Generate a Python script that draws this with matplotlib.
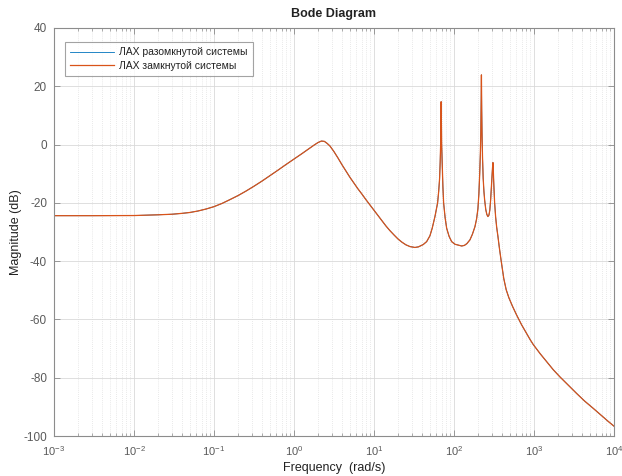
import numpy as np
import matplotlib
matplotlib.use("Agg")
import matplotlib.pyplot as plt
from matplotlib.ticker import LogLocator, FixedLocator, NullFormatter, FuncFormatter

# Frequency grid (rad/s) and magnitude (dB) of the frequency response
freq = [
    1e-3, 3e-3, 0.01, 0.02, 0.03, 0.04, 0.05, 0.063, 0.08, 0.1,
    0.126, 0.158, 0.2, 0.25, 0.316, 0.4, 0.5, 0.63, 0.79, 1.0,
    1.26, 1.58, 1.78, 2.0, 2.2, 2.4, 2.6, 2.82, 3.16, 3.55,
    3.98, 4.47, 5.0, 5.62, 6.31, 7.08, 7.94, 8.91, 10.0, 11.2,
    12.6, 14.1, 15.8, 17.8, 20.0, 22.4, 25.1, 28.2, 32.5, 36.0,
    41.3, 45.6, 50.1, 53.5, 57.9, 60.5, 62.5, 64.5, 66.2, 67.3,
    68.2, 68.7, 69.0, 69.2, 69.4, 69.7, 70.2, 71.5, 72.8, 74.3,
    77.5, 81.1, 87.0, 93.6, 103.0, 113.0, 125.0, 135.0, 145.0, 158.5,
    170.0, 183.0, 192.0, 199.5, 205.0, 210.0, 214.0, 216.8, 218.8, 219.9,
    220.6, 221.3, 222.5, 224.5, 227.5, 232.0, 237.0, 242.0, 250.0, 258.0,
    266.0, 274.0, 281.0, 287.6, 293.0, 298.5, 303.0, 307.4, 310.5, 315.0,
    322.6, 332.0, 342.0, 354.8, 370.0, 390.0, 420.0, 450.0, 487.0, 540.0,
    608.0, 700.0, 810.0, 900.0, 980.0, 1200.0, 1442.0, 1750.0, 2113.0, 2700.0,
    3420.0, 4300.0, 5510.0, 7000.0, 8500.0, 1e4,
]
mag_closed_db = [
    -24.4, -24.4, -24.35, -24.1, -23.9, -23.6, -23.3, -22.8, -22.1, -21.3,
    -20.2, -18.9, -17.5, -16.0, -14.3, -12.5, -10.7, -8.8, -6.9, -5.0,
    -3.1, -1.2, -0.2, 0.7, 1.2, 1.1, 0.4, -0.5, -2.4, -4.6,
    -6.9, -9.1, -11.2, -13.2, -15.2, -17.0, -18.9, -20.7, -22.5, -24.3,
    -26.1, -27.9, -29.5, -31.0, -32.4, -33.5, -34.4, -35.0, -35.3, -35.1,
    -34.3, -33.3, -31.3, -28.7, -24.7, -22.0, -20.0, -16.0, -11.6, -6.0,
    0.0, 6.5, 11.5, 14.7, 11.5, 6.5, 0.0, -8.0, -14.5, -20.0,
    -25.0, -28.7, -31.5, -33.3, -34.2, -34.5, -34.8, -34.6, -34.0, -32.7,
    -30.8, -28.2, -25.5, -22.0, -17.0, -10.0, -3.0, 4.0, 12.0, 19.0,
    23.9, 19.0, 12.0, 4.0, -4.0, -11.5, -16.0, -19.0, -22.3, -24.0,
    -24.7, -24.2, -22.5, -19.0, -15.0, -11.0, -8.3, -6.2, -8.8, -13.5,
    -20.0, -24.8, -28.3, -31.5, -35.5, -40.0, -46.0, -49.8, -52.6, -55.5,
    -58.5, -61.8, -64.8, -67.0, -68.6, -71.8, -74.5, -77.3, -79.7, -82.6,
    -85.4, -88.0, -90.5, -93.0, -95.0, -96.6,
]
# The open-loop curve coincides with the closed-loop one on this scale
mag_open_db = list(mag_closed_db)

series_labels = ["ЛАХ разомкнутой системы", "ЛАХ замкнутой системы"]
series_colors = ["#0072BD", "#D95319"]

x_ticks = [1e-3, 1e-2, 1e-1, 1e0, 1e1, 1e2, 1e3, 1e4]
y_ticks = [-100, -80, -60, -40, -20, 0, 20, 40]

plt.rcParams["font.family"] = ["Liberation Sans", "DejaVu Sans"]
plt.rcParams["mathtext.fontset"] = "custom"
plt.rcParams["mathtext.rm"] = "Liberation Sans"
plt.rcParams["mathtext.it"] = "Liberation Sans:italic"
plt.rcParams["mathtext.bf"] = "Liberation Sans:bold"
plt.rcParams["axes.unicode_minus"] = False

fig = plt.figure(figsize=(6.22, 4.76), dpi=100, facecolor="white")
ax = fig.add_axes([0.0868, 0.084, 0.9002, 0.8572])

ax.semilogx(freq, mag_open_db, color=series_colors[0], lw=0.6, label=series_labels[0])
ax.semilogx(freq, mag_closed_db, color=series_colors[1], lw=0.9, label=series_labels[1])

ax.set_xlim(1e-3, 1e4)
ax.set_ylim(-100, 40)
ax.xaxis.set_major_locator(FixedLocator(x_ticks))
ax.xaxis.set_major_formatter(FuncFormatter(
    lambda v, p: r"$\mathregular{10^{%d}}$" % int(round(np.log10(v)))))
ax.xaxis.set_minor_locator(LogLocator(base=10, subs=np.arange(2, 10), numticks=20))
ax.xaxis.set_minor_formatter(NullFormatter())
ax.yaxis.set_major_locator(FixedLocator(y_ticks))

spine_col = "#8c8c8c"
label_col = "#5a5a5a"
for s in ax.spines.values():
    s.set_color(spine_col)
    s.set_linewidth(0.8)

ax.tick_params(which="both", direction="in", top=True, right=True,
               color=spine_col, labelcolor=label_col, labelsize=8.5)
ax.tick_params(axis="x", which="major", labelsize=8)
ax.tick_params(which="major", length=4, width=0.6)
ax.tick_params(which="minor", length=2.5, width=0.5)
ax.tick_params(axis="x", which="major", pad=6)
ax.tick_params(axis="y", which="major", pad=5)

ax.grid(True, which="major", color="#d9d9d9", lw=0.6, ls="-")
ax.grid(True, which="minor", axis="x", color="#e2e2e2", lw=0.6, ls=(0, (1, 1.5)))
ax.set_axisbelow(True)

ax.set_title("Bode Diagram", fontsize=9, fontweight="bold", color="#222222", pad=8)
ax.set_xlabel("Frequency  (rad/s)", fontsize=9, color="#222222", labelpad=3)
ax.set_ylabel("Magnitude (dB)", fontsize=9, color="#222222", labelpad=1)

leg = ax.legend(loc="upper left", bbox_to_anchor=(0.019, 0.965), fontsize=7.5,
                frameon=True, fancybox=False, handlelength=4.2, handletextpad=0.5,
                borderpad=0.5, labelspacing=0.35, borderaxespad=0.0)
leg.get_frame().set_edgecolor("#8c8c8c")
leg.get_frame().set_linewidth(0.8)
for t in leg.get_texts():
    t.set_color("#222222")

fig.savefig("out.png", dpi=100, facecolor="white")
